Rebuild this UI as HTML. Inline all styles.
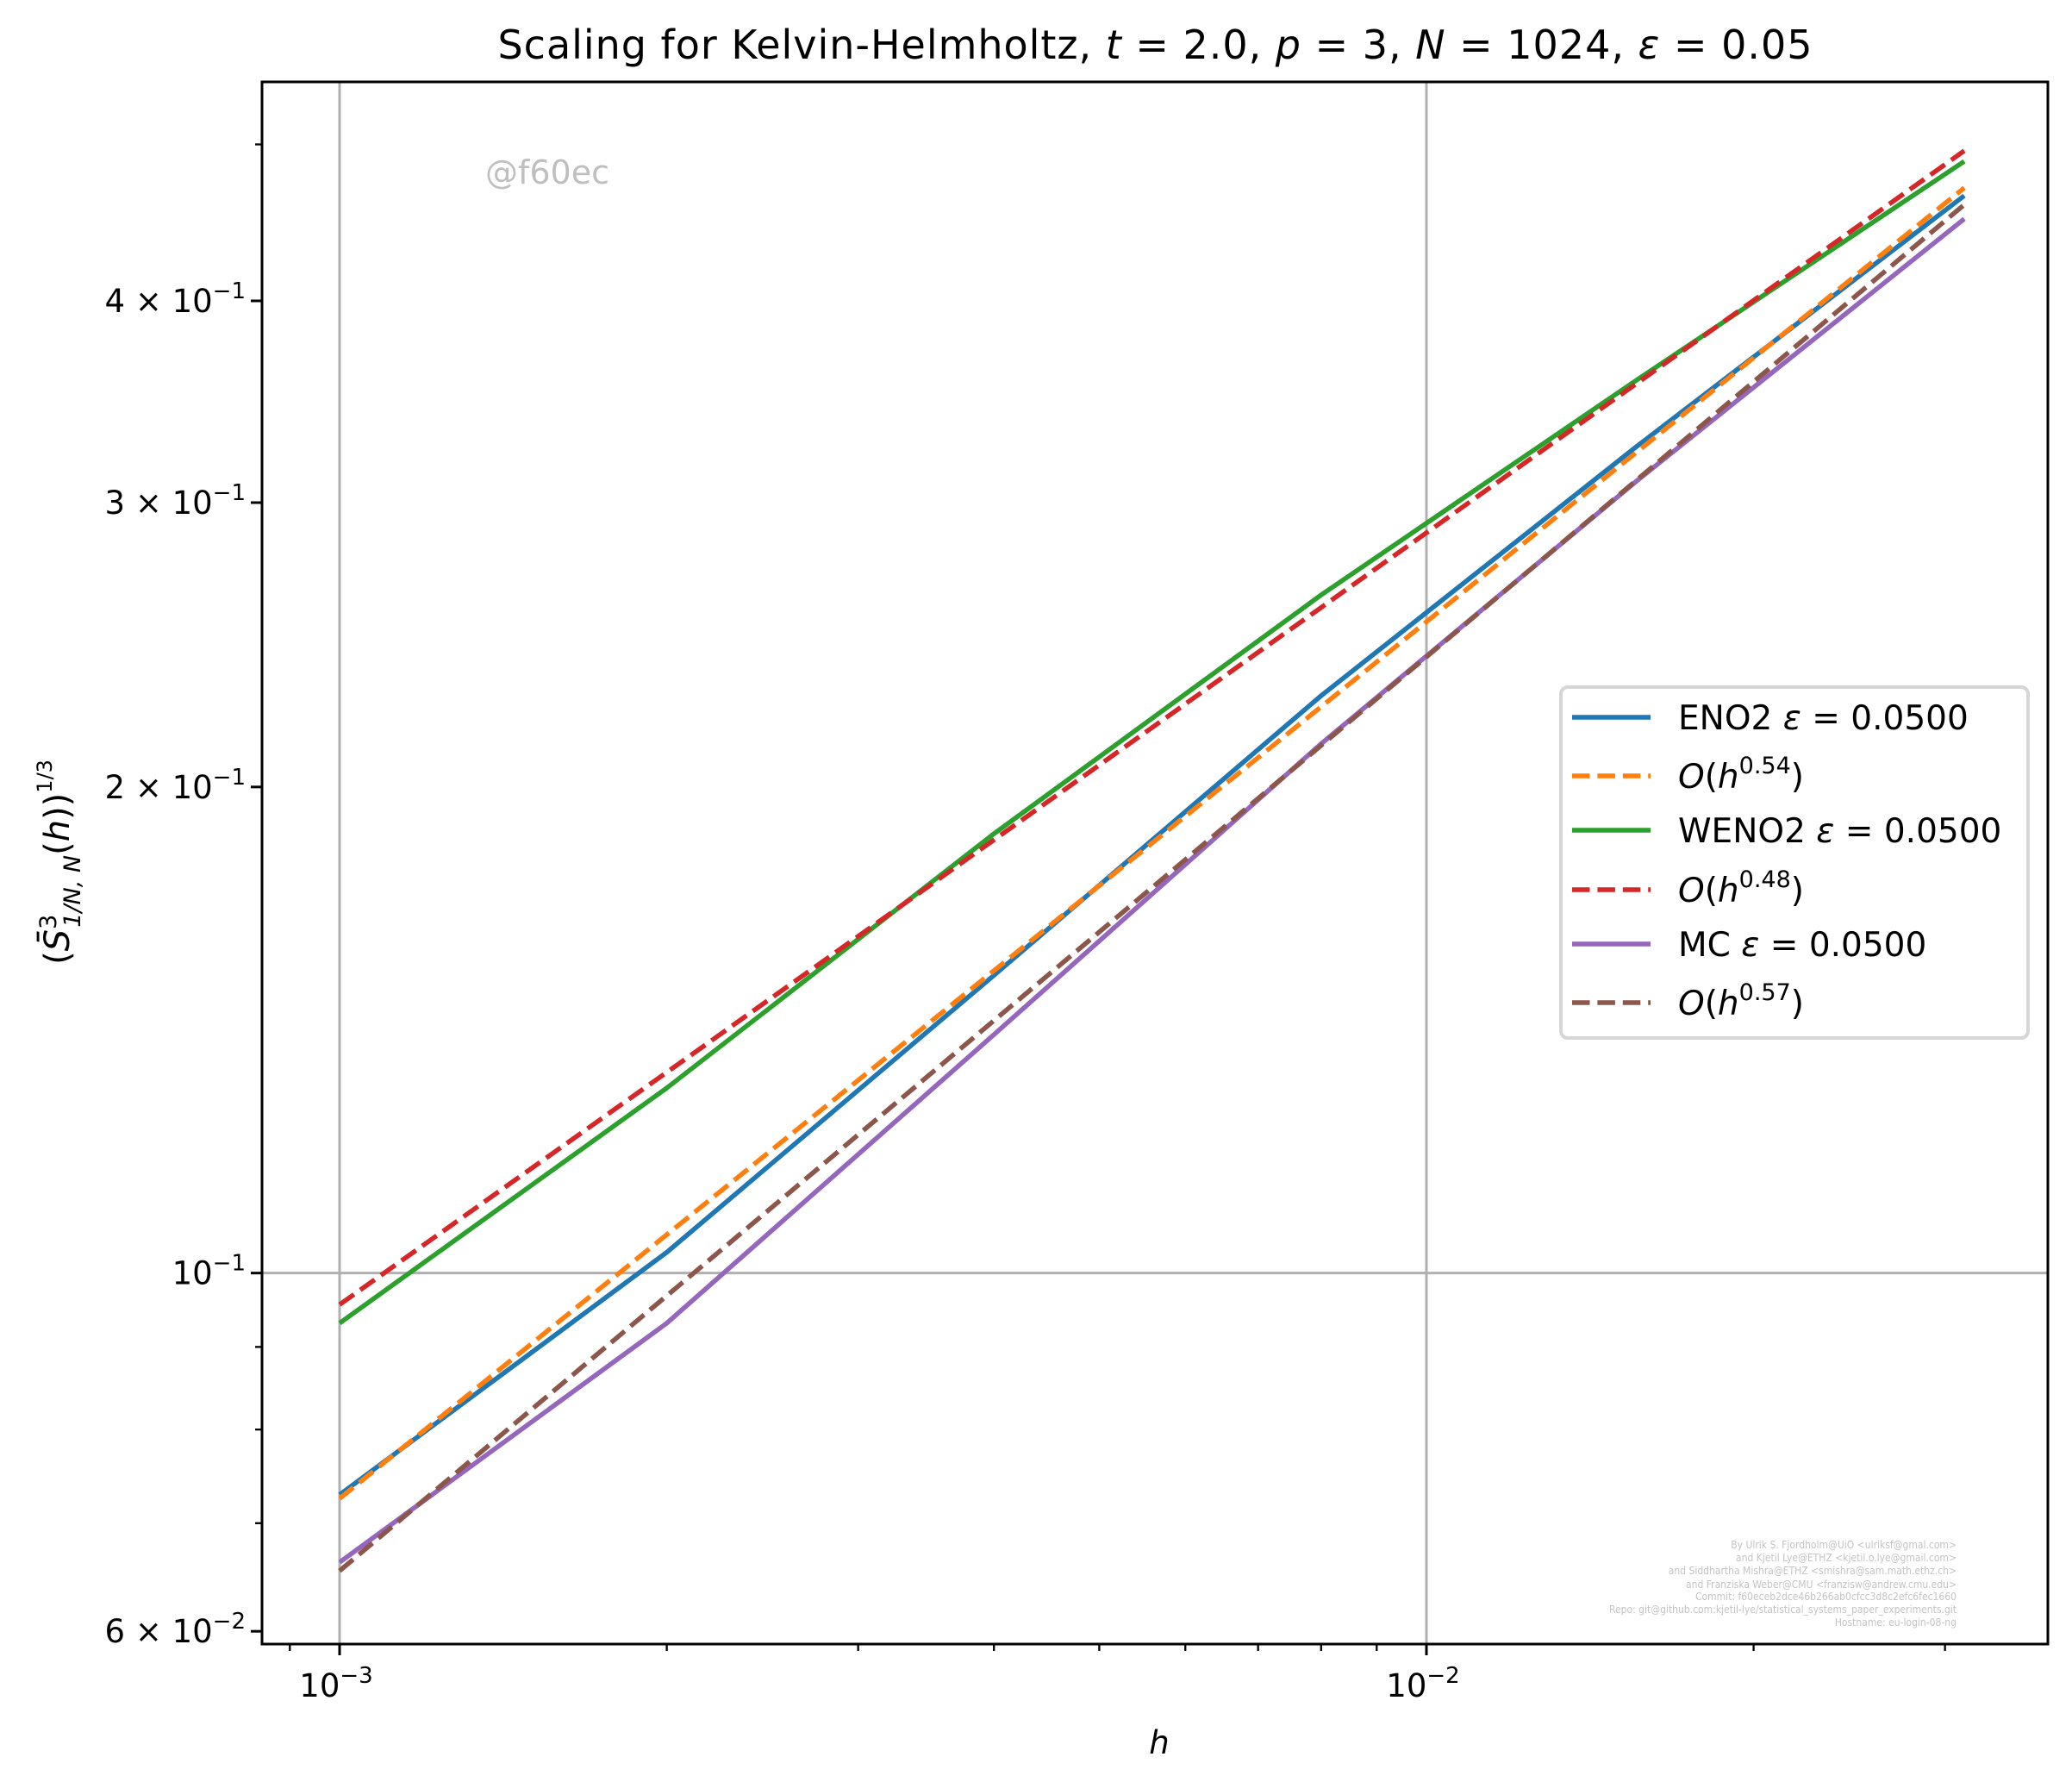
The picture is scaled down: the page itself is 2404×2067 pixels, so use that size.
<!DOCTYPE html>
<html><head><meta charset="utf-8"><style>
html,body{margin:0;padding:0;background:#fff;}
svg{display:block;font-family:"DejaVu Sans","Liberation Sans",sans-serif;}
</style></head><body>
<svg id="chart" width="2404" height="2067" viewBox="0 0 2404 2067" xmlns="http://www.w3.org/2000/svg">
<rect width="2404" height="2067" fill="#fff"/>
<text x="1340" y="68" font-size="46" text-anchor="middle" textLength="1525" lengthAdjust="spacing">Scaling for Kelvin-Helmholtz, <tspan font-style="italic">t</tspan> = 2.0, <tspan font-style="italic">p</tspan> = 3, <tspan font-style="italic">N</tspan> = 1024, <tspan font-style="italic">ε</tspan> = 0.05</text>
<g id="grid"></g>
<g id="series"></g>
<g id="axes"></g>
<text x="563" y="213" font-size="38" fill="#bfbfbf">@f60ec</text>
<g font-family="'DejaVu Sans Condensed','Liberation Sans Narrow',sans-serif" font-size="12" fill="#c4c4c4" text-anchor="end">
<text x="2270" y="1796">By Ulrik S. Fjordholm@UiO &lt;ulriksf@gmal.com&gt;</text>
<text x="2270" y="1811">and Kjetil Lye@ETHZ &lt;kjetil.o.lye@gmail.com&gt;</text>
<text x="2270" y="1826">and Siddhartha Mishra@ETHZ &lt;smishra@sam.math.ethz.ch&gt;</text>
<text x="2270" y="1842">and Franziska Weber@CMU &lt;franzisw@andrew.cmu.edu&gt;</text>
<text x="2270" y="1856">Commit: f60eceb2dce46b266ab0cfcc3d8c2efc6fec1660</text>
<text x="2270" y="1871">Repo: git@github.com:kjetil-lye/statistical_systems_paper_experiments.git</text>
<text x="2270" y="1886">Hostname: eu-login-08-ng</text>
</g>
<text x="1345" y="2034" font-size="37" font-style="italic" text-anchor="middle">h</text>
<text transform="translate(80,1000) rotate(-90)" font-size="40" text-anchor="middle">(<tspan font-style="italic">S̄</tspan><tspan font-size="27" dy="-15">3</tspan><tspan font-size="27" dx="-15" dy="28" font-style="italic">1/N, N</tspan><tspan dy="-13">(</tspan><tspan font-style="italic">h</tspan>))<tspan font-size="24" dy="-20">1/3</tspan></text>
<g id="legend">
<rect x="1811" y="797" width="542" height="407" rx="8" fill="#fff" fill-opacity="0.8" stroke="#d6d6d6" stroke-width="4"/>
</g>
</svg>
<script>
const hValues = [0.001, 0.002, 0.004, 0.008, 0.0156, 0.03125];
const eno2 = [0.0729, 0.1030, 0.1529, 0.2278, 0.3249, 0.4647];
const weno2 = [0.0931, 0.1302, 0.1871, 0.2630, 0.3572, 0.4881];
const mc = [0.0662, 0.0931, 0.1405, 0.2127, 0.3093, 0.4496];
const fitExponents = [0.543, 0.478, 0.566];
const fitPrefactors = [0.0725, 0.0956, 0.0654];
const yTickValues = [0.4, 0.3, 0.2, 0.1, 0.06];
const yTickLabels = ["4", "3", "2", "1", "6"];
const yMinorValues = [0.5, 0.07, 0.08, 0.09];
const xTickValues = [0.001, 0.01];
const xTickLabels = ["−3", "−2"];
const xMinorValues = [0.0009, 0.002, 0.003, 0.004, 0.005, 0.006, 0.007, 0.008, 0.009, 0.02, 0.03];

const NS = "http://www.w3.org/2000/svg";
const L = 304, R = 2376, T = 95, B = 1907;
function xs(v){ return 394 + (Math.log10(v) + 3) * 1261; }
function ys(v){ return 349 + (Math.log10(0.4) - Math.log10(v)) * 1873; }
function mk(tag, attrs, parent){
  const e = document.createElementNS(NS, tag);
  for (const k in attrs) e.setAttribute(k, attrs[k]);
  parent.appendChild(e); return e;
}
const grid = document.getElementById('grid');
const axes = document.getElementById('axes');
const series = document.getElementById('series');

xTickValues.forEach(v => {
  const g = mk('line', {x1: xs(v), x2: xs(v), y1: T, y2: B, stroke: '#b0b0b0', 'stroke-width': 3}, grid);
  
  
});
yTickValues.forEach((v, i) => {
  if (yTickLabels[i] !== "1") return;
  const g = mk('line', {x1: L, x2: R, y1: ys(v), y2: ys(v), stroke: '#b0b0b0', 'stroke-width': 3}, grid);
  
  
});

const defs = [
  {name: 'eno2-line', data: eno2, color: '#1f77b4'},
  {name: 'weno2-line', data: weno2, color: '#2ca02c'},
  {name: 'mc-line', data: mc, color: '#9467bd'}
];
const fitColors = ['#ff7f0e', '#d62728', '#8c564b'];
const fitNames = ['eno2-fit-line', 'weno2-fit-line', 'mc-fit-line'];
const order = [[0, 'data'], [0, 'fit'], [1, 'data'], [1, 'fit'], [2, 'data'], [2, 'fit']];
order.forEach(([i, kind]) => {
  let pts, color, name, dash = null;
  if (kind === 'data') {
    pts = hValues.map((h, j) => xs(h).toFixed(1) + ',' + ys(defs[i].data[j]).toFixed(1));
    color = defs[i].color; name = defs[i].name;
  } else {
    pts = hValues.map(h => xs(h).toFixed(1) + ',' + ys(fitPrefactors[i] * Math.pow(h / 0.001, fitExponents[i])).toFixed(1));
    color = fitColors[i]; name = fitNames[i]; dash = '20.5,8.9';
  }
  const p = mk('polyline', {points: pts.join(' '), fill: 'none', stroke: color, 'stroke-width': 5.5, 'stroke-linejoin': 'round'}, series);
  if (dash) p.setAttribute('stroke-dasharray', dash);
  
  
});

const frame = mk('rect', {x: L, y: T, width: R - L, height: B - T, fill: 'none', stroke: '#000', 'stroke-width': 3}, axes);



yTickValues.forEach((v, i) => {
  const y = ys(v);
  const t = mk('line', {x1: L - 13, x2: L, y1: y, y2: y, stroke: '#000', 'stroke-width': 3}, axes);
  
  
  const tx = mk('text', {x: 285, y: y + 13, 'font-size': 37, 'text-anchor': 'end'}, axes);
  
  
  if (yTickLabels[i] === "1") {
    tx.innerHTML = '10<tspan font-size="26" dy="-16">−1</tspan>';
  } else {
    tx.innerHTML = yTickLabels[i] + ' × 10<tspan font-size="26" dy="-16">' + (v < 0.1 ? '−2' : '−1') + '</tspan>';
  }
});
yMinorValues.forEach(v => {
  const t = mk('line', {x1: L - 8, x2: L, y1: ys(v), y2: ys(v), stroke: '#000', 'stroke-width': 2.3}, axes);
  
  
});
xTickValues.forEach((v, i) => {
  const x = xs(v);
  const t = mk('line', {x1: x, x2: x, y1: B, y2: B + 13, stroke: '#000', 'stroke-width': 3}, axes);
  
  
  const tx = mk('text', {x: x - 4, y: 1968, 'font-size': 37, 'text-anchor': 'middle'}, axes);
  
  
  tx.innerHTML = '10<tspan font-size="26" dy="-16">' + xTickLabels[i] + '</tspan>';
});
xMinorValues.forEach(v => {
  const t = mk('line', {x1: xs(v), x2: xs(v), y1: B, y2: B + 8, stroke: '#000', 'stroke-width': 2.3}, axes);
  
  
});

const legend = document.getElementById('legend');
const legendLabels = [
  'ENO2 <tspan font-style="italic">ε</tspan> = 0.0500',
  '<tspan font-style="italic">O</tspan>(<tspan font-style="italic">h</tspan><tspan font-size="27" dy="-17">0.54</tspan><tspan dy="17">)</tspan>',
  'WENO2 <tspan font-style="italic">ε</tspan> = 0.0500',
  '<tspan font-style="italic">O</tspan>(<tspan font-style="italic">h</tspan><tspan font-size="27" dy="-17">0.48</tspan><tspan dy="17">)</tspan>',
  'MC <tspan font-style="italic">ε</tspan> = 0.0500',
  '<tspan font-style="italic">O</tspan>(<tspan font-style="italic">h</tspan><tspan font-size="27" dy="-17">0.57</tspan><tspan dy="17">)</tspan>'
];
const legendColors = ['#1f77b4', '#ff7f0e', '#2ca02c', '#d62728', '#9467bd', '#8c564b'];
const legendRowsY = [832, 900, 963, 1032, 1095, 1163];
legendLabels.forEach((lab, i) => {
  const y = legendRowsY[i];
  const ln = mk('line', {x1: 1824, x2: 1915, y1: y, y2: y, stroke: legendColors[i], 'stroke-width': 5.5}, legend);
  if (i % 2 === 1) ln.setAttribute('stroke-dasharray', '20.5,8.9');
  
  
  const tx = mk('text', {x: 1947, y: y + 14, 'font-size': 39}, legend);
  tx.innerHTML = lab;
  
  
});
</script>
</body></html>
